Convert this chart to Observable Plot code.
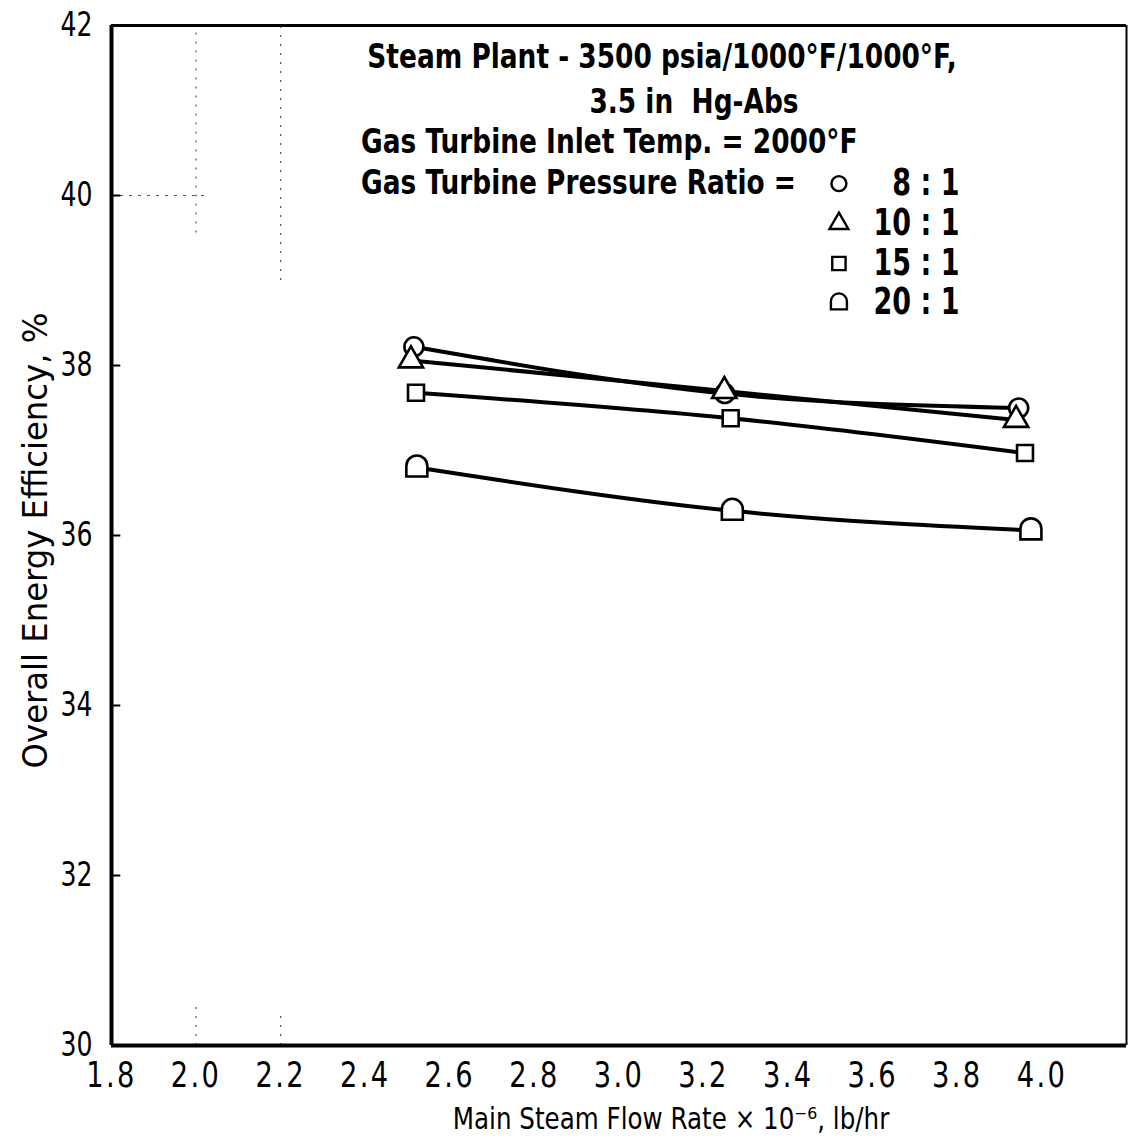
<!DOCTYPE html>
<html>
<head>
<meta charset="utf-8">
<script src="https://cdn.jsdelivr.net/npm/d3@7"></script>
<script src="https://cdn.jsdelivr.net/npm/@observablehq/plot@0.6"></script>
<style>
  body { margin: 0; background: #fff; }
  #chart svg { display: block; }
</style>
</head>
<body>
<div id="chart"></div>
<script>
// Gas turbine pressure ratios (one curve each)
const ratios = ["8 : 1", "10 : 1", "15 : 1", "20 : 1"];

// Main steam flow rate (x 10^-6 lb/hr) and overall energy efficiency (%) per ratio
const flow8  = [2.515, 3.250, 3.945];
const eff8   = [38.22, 37.67, 37.50];
const flow10 = [2.508, 3.249, 3.939];
const eff10  = [38.06, 37.70, 37.36];
const flow15 = [2.520, 3.264, 3.960];
const eff15  = [37.68, 37.38, 36.97];
const flow20 = [2.522, 3.268, 3.974];
const eff20  = [36.80, 36.29, 36.06];

// Axis ticks
const xTicks = [1.8, 2.0, 2.2, 2.4, 2.6, 2.8, 3.0, 3.2, 3.4, 3.6, 3.8, 4.0];
const yTicks = [30, 32, 34, 36, 38, 40, 42];

// Header notes
const notes = [
  "Steam Plant - 3500 psia/1000°F/1000°F,",
  "3.5 in  Hg-Abs",
  "Gas Turbine Inlet Temp. = 2000°F",
  "Gas Turbine Pressure Ratio ="
];

const xLabel = "Main Steam Flow Rate × 10⁻⁶, lb/hr";
const yLabel = "Overall Energy Efficiency, %";

// Open "dome" marker: half circle on top of a short box
const dome = {
  draw(ctx, size) {
    const r = Math.sqrt(size / Math.PI);
    const cy = -0.15 * r;
    ctx.moveTo(-r, 0.85 * r);
    ctx.lineTo(-r, cy);
    ctx.arc(0, cy, r, Math.PI, 2 * Math.PI);
    ctx.lineTo(r, 0.85 * r);
    ctx.closePath();
  }
};

const series = [
  {ratio: ratios[0], flow: flow8,  eff: eff8,  symbol: "circle",   r: 9.5, kr: 7.5},
  {ratio: ratios[1], flow: flow10, eff: eff10, symbol: "triangle", r: 9,   kr: 7},
  {ratio: ratios[2], flow: flow15, eff: eff15, symbol: "square",   r: 9,   kr: 7.5},
  {ratio: ratios[3], flow: flow20, eff: eff20, symbol: dome,       r: 10.5, kr: 8}
];
const rows = s => s.flow.map((f, i) => ({ratio: s.ratio, flow: f, eff: s.eff[i]}));

// Layout of the notes block and key (in data units)
const noteX = [2.405, 2.93, 2.39, 2.39];
const noteY = [41.63, 41.10, 40.62, 40.14];
const keySymX = 3.52, keyTextX = 3.805;
const keyY = [40.14, 39.67, 39.20, 38.74];

const marks = [
  // faint remnants of grid lines
  Plot.ruleX([2.0], {y1: 39.56, y2: 42, stroke: "#555", strokeWidth: 1.2, strokeDasharray: "2,7"}),
  Plot.ruleX([2.2], {y1: 39.0, y2: 42, stroke: "#555", strokeWidth: 1.2, strokeDasharray: "2,7"}),
  Plot.ruleX([2.0], {y1: 30, y2: 30.45, stroke: "#555", strokeWidth: 1.2, strokeDasharray: "2,7"}),
  Plot.ruleX([2.2], {y1: 30, y2: 30.35, stroke: "#555", strokeWidth: 1.2, strokeDasharray: "2,7"}),
  Plot.ruleY([40], {x1: 1.8, x2: 2.03, stroke: "#555", strokeWidth: 1.2, strokeDasharray: "3,6"}),

  // frame
  Plot.ruleX([1.8], {stroke: "#000", strokeWidth: 4}),
  Plot.ruleY([30], {stroke: "#000", strokeWidth: 4}),
  Plot.ruleY([42], {stroke: "#000", strokeWidth: 3}),
  Plot.ruleX([4.2], {stroke: "#000", strokeWidth: 2}),
  // inward ticks on the efficiency axis
  Plot.ruleY(yTicks, {x1: 1.8, x2: 1.822, stroke: "#000", strokeWidth: 2}),

  Plot.axisX({ticks: xTicks, tickSize: 0, tickPadding: 17, tickFormat: d3.format(".1f"), fontSize: 35, label: null}),
  Plot.axisY({ticks: yTicks, tickSize: 0, tickPadding: 19, fontSize: 34, label: null}),

  // curves
  ...series.map(s => Plot.line(rows(s), {x: "flow", y: "eff", curve: "natural", stroke: "#000", strokeWidth: 4})),
  // markers (triangles drawn above circles)
  ...[3, 2, 0, 1].map(k => Plot.dot(rows(series[k]), {
    x: "flow", y: "eff", symbol: series[k].symbol, r: series[k].r,
    fill: "#fff", stroke: "#000", strokeWidth: 2.6
  })),

  // notes
  ...notes.map((t, i) => Plot.text([t], {
    x: noteX[i], y: noteY[i], text: d => d, textAnchor: "start",
    fontSize: 33, fontWeight: "bold", fill: "#000"
  })),

  // key
  ...series.map((s, i) => Plot.dot([s], {
    x: keySymX, y: keyY[i], symbol: s.symbol, r: s.kr,
    fill: "#fff", stroke: "#000", strokeWidth: 2.4
  })),
  Plot.text(series, {
    x: keyTextX, y: (d, i) => keyY[i], text: "ratio", textAnchor: "end",
    fontSize: 37, fontWeight: "bold", fill: "#000"
  }),

  // axis titles
  Plot.text([xLabel], {frameAnchor: "bottom", textAnchor: "middle", lineAnchor: "middle", dx: 52, dy: 74, text: d => d, fontSize: 30, fill: "#000"}),
  Plot.text([yLabel], {frameAnchor: "left", textAnchor: "middle", lineAnchor: "middle", dx: -75, dy: 5, rotate: -90, text: d => d, fontSize: 34, fill: "#000"})
];

const chart = Plot.plot({
  width: 1128,
  height: 1145,
  marginLeft: 111,
  marginRight: 2,
  marginTop: 25,
  marginBottom: 100,
  x: {domain: [1.8, 4.2]},
  y: {domain: [30, 42]},
  style: {fontFamily: "'DejaVu Sans', sans-serif", color: "#000", background: "#fff", overflow: "visible"},
  marks
});

// Narrow, lettering-guide look: squeeze each label along its own baseline
function condense(sel, sx) {
  sel.attr("transform", function() {
    const t = this.getAttribute("transform") || "";
    return `${t} scale(${sx},1)`;
  });
}
const svg = d3.select(chart);
condense(svg.selectAll('g[aria-label="x-axis tick label"] text').style("letter-spacing", "3px"), 0.78);
condense(svg.selectAll('g[aria-label="y-axis tick label"] text'), 0.74);
const texts = svg.selectAll('g[aria-label="text"] text');
condense(texts.filter(function() { return notes.includes(this.textContent); }), 0.80);
condense(texts.filter(function() { return ratios.includes(this.textContent); }), 0.73);
condense(texts.filter(function() { return this.textContent === xLabel; }), 0.82);
condense(texts.filter(function() { return this.textContent === yLabel; }), 0.95);

document.getElementById("chart").append(chart);
</script>
</body>
</html>
